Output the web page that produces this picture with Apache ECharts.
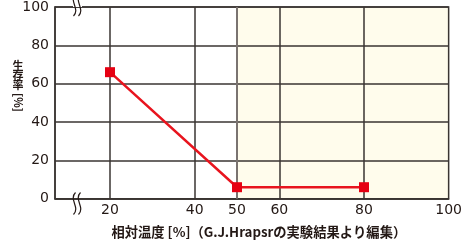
<!DOCTYPE html>
<html>
<head>
<meta charset="utf-8">
<title>生存率</title>
<script src="https://cdn.jsdelivr.net/npm/echarts@6/dist/echarts.min.js"></script>
<style>
  html, body { margin: 0; padding: 0; background: #fff; }
  #main { width: 465px; height: 244px; }
</style>
</head>
<body>
<div id="main"></div>
<script>
// 相対温度 [%] と生存率 [%]
var humidity = [20, 50, 80];
var survival = [66, 6, 6];
var xLabelValues = [20, 40, 50, 60, 80, 100];
var xGridValues = [20, 40, 60, 80];
var dampZone = [50, 100];
var yNameChars = ['生', '存', '率'];

var ink = '#231815';
var gridInk = '#3a3532';

var points = [];
for (var i = 0; i < humidity.length; i++) {
  points.push([humidity[i], survival[i]]);
}

// 波線（軸の省略記号）
function breakMark(x, y) {
  function wave(dx) {
    return {
      type: 'bezierCurve', x: x + dx, y: y, z: 11,
      shape: { x1: 1, y1: -11, cpx1: -6, cpy1: -4, cpx2: 6, cpy2: 4, x2: -1, y2: 11 },
      style: { fill: null, stroke: ink, lineWidth: 1.2 }
    };
  }
  return [
    { type: 'rect', shape: { x: x - 4, y: y - 2, width: 9, height: 4 }, style: { fill: '#fff' }, z: 10 },
    wave(-2.5),
    wave(2.5)
  ];
}

// 縦書きの軸名
var yName = [];
yNameChars.forEach(function (c, i) {
  yName.push({
    type: 'text', x: 18, y: 66 + i * 9.5, z: 10,
    style: { text: c, fill: ink, font: 'bold 11px "Noto Sans CJK JP"', align: 'center', verticalAlign: 'middle' }
  });
});
yName.push({
  type: 'text', x: 18, y: 102.5, rotation: -Math.PI / 2, z: 10,
  style: { text: '[%]', fill: ink, font: 'bold 11px "Noto Sans CJK JP"', align: 'center', verticalAlign: 'middle' }
});

var myChart = echarts.init(document.getElementById('main'));
var option = {
  animation: false,
  textStyle: { fontFamily: 'Noto Sans CJK JP' },
  grid: {
    left: 55, right: 15, top: 5, bottom: 40.5,
    show: true, borderColor: gridInk, borderWidth: 1.5,
    backgroundColor: 'transparent', z: 2
  },
  xAxis: {
    type: 'value', min: 7, max: 100, z: 2,
    name: '相対温度 [%]（G.J.Hrapsrの実験結果より編集）',
    nameLocation: 'middle', nameGap: 27,
    nameTextStyle: { color: ink, fontSize: 13.3, fontWeight: 'bold', fontFamily: 'Noto Sans CJK JP', padding: [0, 0, 0, 14] },
    axisLine: { show: true, lineStyle: { color: gridInk, width: 1.5 } },
    axisTick: { show: false, customValues: xGridValues },
    axisLabel: { customValues: xLabelValues, color: ink, fontSize: 14, fontFamily: 'DejaVu Sans', margin: 5 },
    splitLine: { show: true, lineStyle: { color: gridInk, width: 1.5 } }
  },
  yAxis: {
    type: 'value', min: 0, max: 100, interval: 20, z: 2,
    axisLine: { show: true, lineStyle: { color: gridInk, width: 1.5 } },
    axisTick: { show: false },
    axisLabel: { color: ink, fontSize: 14, fontFamily: 'DejaVu Sans', margin: 6 },
    splitLine: { show: true, lineStyle: { color: gridInk, width: 1.5 } }
  },
  graphic: yName.concat(breakMark(77, 5), breakMark(77, 203.5)),
  series: [
    {
      type: 'line', data: [], z: 0, silent: true,
      markArea: {
        silent: true, z: 0,
        itemStyle: { color: '#fffcec' },
        data: [[{ xAxis: dampZone[0] }, { xAxis: dampZone[1] }]]
      }
    },
    {
      type: 'line', data: [], z: 3, silent: true,
      markLine: {
        silent: true, symbol: 'none', label: { show: false }, z: 3,
        lineStyle: { color: '#7a7370', width: 2, type: 'solid' },
        data: [{ xAxis: dampZone[0] }]
      }
    },
    {
      type: 'line', data: points, z: 6,
      symbol: 'rect', symbolSize: 10,
      itemStyle: { color: '#e60012' },
      lineStyle: { color: '#e8141e', width: 2.5 }
    }
  ]
};
myChart.setOption(option);
</script>
</body>
</html>
